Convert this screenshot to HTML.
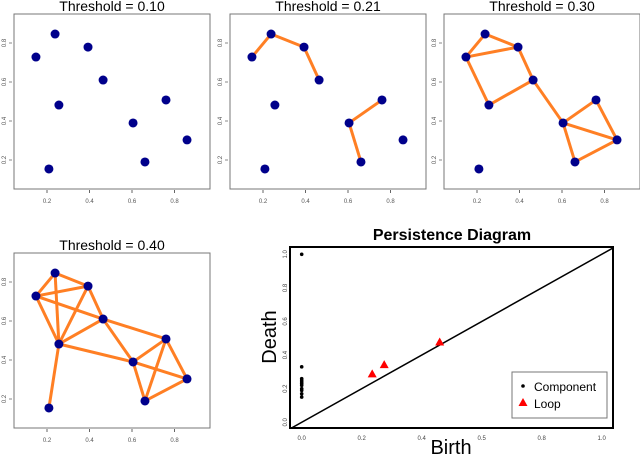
<!DOCTYPE html>
<html><head><meta charset="utf-8">
<style>
html,body{margin:0;padding:0;background:#fff;width:640px;height:454px;overflow:hidden}
svg{display:block;font-family:"Liberation Sans",sans-serif}
</style></head>
<body>
<svg id="c" width="640" height="454"></svg>
<script>
const ptX=[0.148,0.238,0.393,0.464,0.256,0.209,0.605,0.760,0.661,0.859];
const ptY=[0.728,0.846,0.779,0.610,0.482,0.154,0.390,0.508,0.190,0.303];
const thresholds=["0.10","0.21","0.30","0.40"];
const edges021=[[0,1],[1,2],[2,3],[6,7],[6,8]];
const edges030=[[0,1],[1,2],[0,2],[2,3],[0,4],[4,3],[3,6],[6,7],[6,9],[7,9],[6,8],[8,9]];
const edges040=[[0,1],[1,2],[0,2],[1,4],[0,4],[2,4],[4,3],[2,3],[0,3],[4,6],[3,6],[3,7],[6,7],[6,9],[7,9],[7,8],[6,8],[8,9],[4,5]];
const panelTicks=[0.2,0.4,0.6,0.8];
const compDeath=[1.0,0.33,0.26,0.25,0.24,0.23,0.22,0.20,0.19,0.17,0.15];
const loopBirth=[0.235,0.275,0.46];
const loopDeath=[0.285,0.34,0.475];
const pdTicks=[0.0,0.2,0.4,0.6,0.8,1.0];
const pdTickLabels=["0.0","0.2","0.4","0.5","0.8","1.0"];

const svg=document.getElementById('c');
const NS="http://www.w3.org/2000/svg";
function mk(tag,attrs,parent){const e=document.createElementNS(NS,tag);for(const k in attrs)e.setAttribute(k,attrs[k]);(parent||svg).appendChild(e);return e;}

const panels=[{dx:0,dy:0,e:[]},{dx:216,dy:0,e:edges021},{dx:430,dy:0,e:edges030},{dx:0,dy:239,e:edges040}];
panels.forEach((p,i)=>{
  const g=mk('g',{});
  
  
  const sx=v=>p.dx+4.5+v*212.5, sy=v=>p.dy+199-v*195;
  const box=mk('rect',{x:p.dx+14,y:p.dy+14,width:196,height:175,fill:'none',stroke:'#777','stroke-width':1},g);
  
  const t=mk('text',{x:p.dx+112,y:p.dy+11,'text-anchor':'middle','font-size':14,fill:'#000'},g);
  t.textContent='Threshold = '+thresholds[i];
  
  panelTicks.forEach(v=>{
    mk('line',{x1:sx(v),x2:sx(v),y1:p.dy+190,y2:p.dy+193,stroke:'#666'},g);
    const tl=mk('text',{x:sx(v),y:p.dy+203,'text-anchor':'middle','font-size':6,fill:'#555'},g);
    tl.textContent=v.toFixed(1);
    
    mk('line',{x1:p.dx+9,x2:p.dx+12,y1:sy(v),y2:sy(v),stroke:'#888'},g);
    const yl=mk('text',{x:0,y:0,'text-anchor':'middle','font-size':6,fill:'#555',transform:`translate(${p.dx+6},${sy(v)}) rotate(-90)`},g);
    yl.textContent=v.toFixed(1);
    
  });
  p.e.forEach(([a,b])=>{
    const l=mk('line',{x1:sx(ptX[a]),y1:sy(ptY[a]),x2:sx(ptX[b]),y2:sy(ptY[b]),stroke:'#FF7F24','stroke-width':3},g);
    
  });
  ptX.forEach((x,k)=>{
    const c=mk('circle',{cx:sx(x),cy:sy(ptY[k]),r:4.5,fill:'#00008B'},g);
    
  });
});

const pg=mk('g',{});


const px=v=>301.7+v*300, py=v=>422.3-v*168;
const L=290,R=613,T=247,B=428;
const ttl=mk('text',{x:452,y:240,'text-anchor':'middle','font-size':16,'font-weight':'bold'},pg);
ttl.textContent='Persistence Diagram';

mk('clipPath',{id:'pc'},pg);
mk('rect',{x:L,y:T,width:R-L,height:B-T},document.getElementById('pc'));
const diag=mk('line',{x1:px(-0.1),y1:py(-0.1),x2:px(1.1),y2:py(1.1),stroke:'#000','stroke-width':1.5,'clip-path':'url(#pc)'},pg);

const fr=mk('rect',{x:L,y:T,width:R-L,height:B-T,fill:'none',stroke:'#000','stroke-width':2},pg);

pdTicks.forEach((v,i)=>{
  const xl=mk('text',{x:px(v),y:440,'text-anchor':'middle','font-size':6,fill:'#444'},pg);
  xl.textContent=pdTickLabels[i];
  
  const yl=mk('text',{x:0,y:0,'text-anchor':'middle','font-size':6,fill:'#444',transform:`translate(${L-3},${py(v)}) rotate(-90)`},pg);
  yl.textContent=pdTickLabels[i]==="0.5"?"0.6":pdTickLabels[i];
  
});
const xt=mk('text',{x:451,y:454,'text-anchor':'middle','font-size':20},pg);
xt.textContent='Birth';

const yt=mk('text',{x:0,y:0,'text-anchor':'middle','font-size':20,transform:'translate(276,337) rotate(-90)'},pg);
yt.textContent='Death';

compDeath.forEach(d=>{
  const c=mk('circle',{cx:px(0),cy:py(d),r:1.8,fill:'#000'},pg);
  
});
loopBirth.forEach((b,i)=>{
  const x=px(b),y=py(loopDeath[i]);
  const t=mk('polygon',{points:`${x},${y-5} ${x-4.5},${y+3} ${x+4.5},${y+3}`,fill:'#FF0000'},pg);
  
});
const lg=mk('g',{},pg);

mk('rect',{x:512,y:372,width:95,height:46,fill:'#fff',stroke:'#777'},lg);
mk('circle',{cx:523,cy:386,r:1.8,fill:'#000'},lg);
const l1=mk('text',{x:534,y:391,'font-size':12},lg);l1.textContent='Component';

mk('polygon',{points:'523,398 518.5,406 527.5,406',fill:'#FF0000'},lg);
const l2=mk('text',{x:534,y:408,'font-size':12},lg);l2.textContent='Loop';

</script>
</body></html>
